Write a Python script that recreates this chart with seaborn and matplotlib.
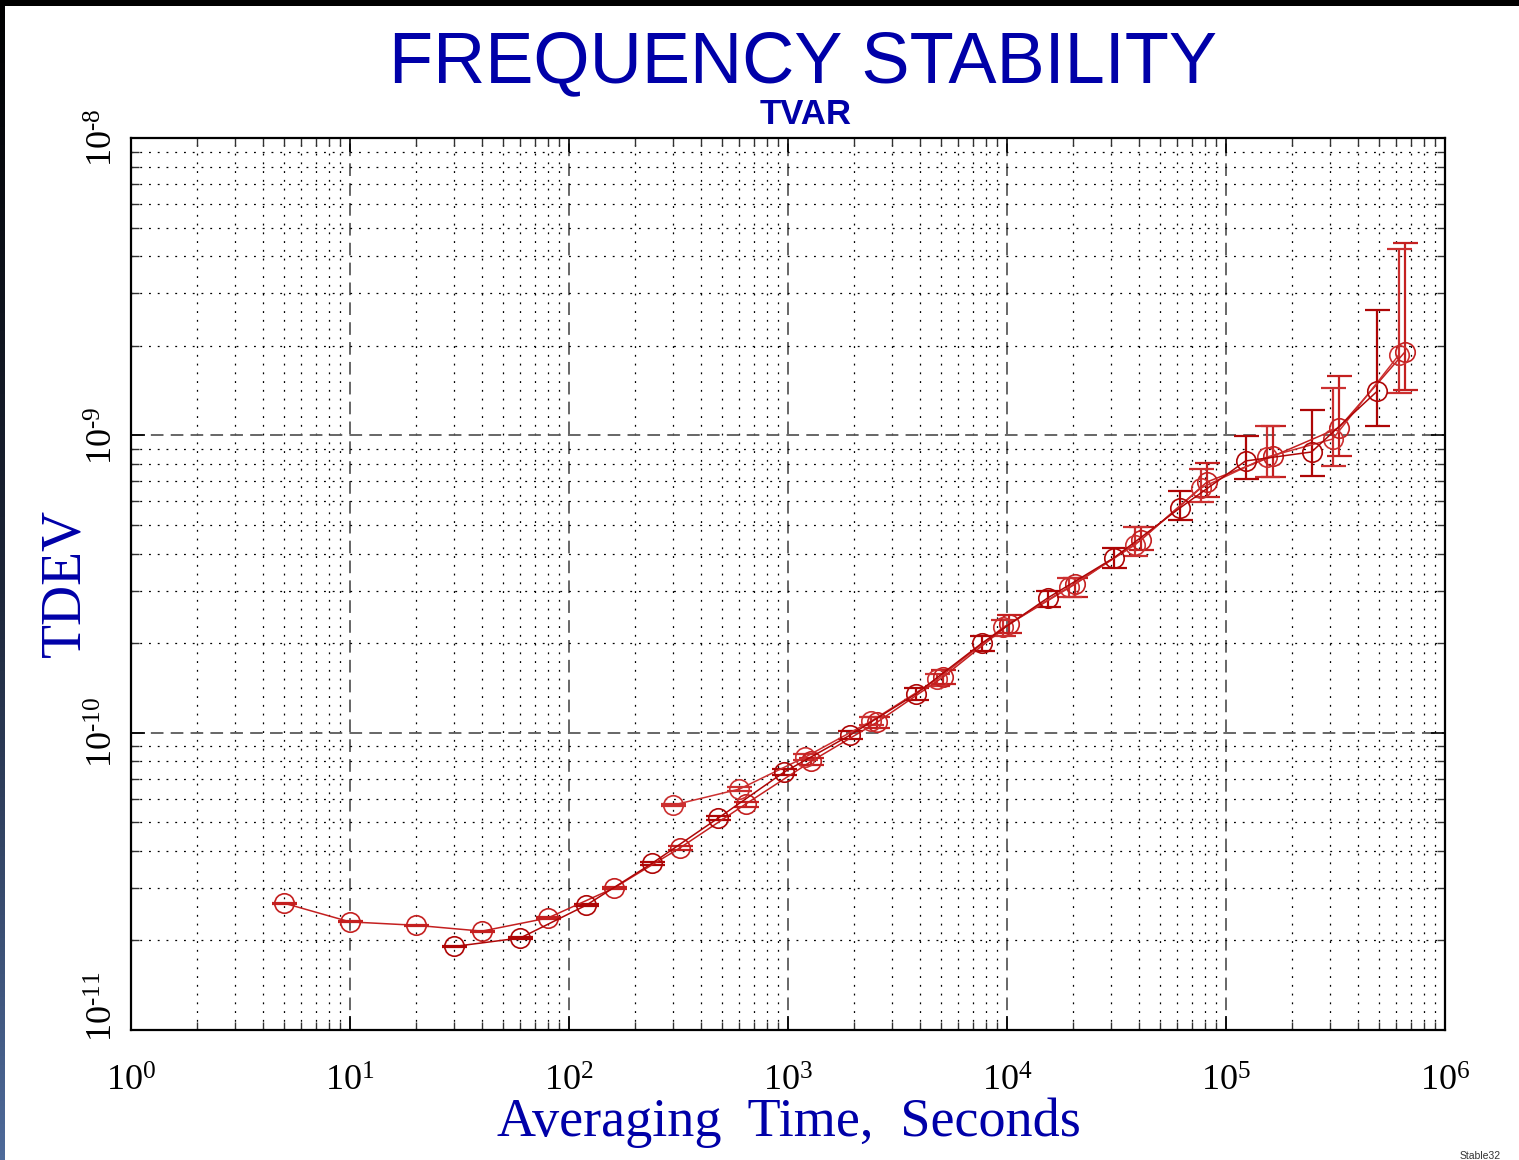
# Gráfica de estabilidad de frecuencia (TDEV) con varias corridas superpuestas
import numpy as np
import pandas as pd
import matplotlib
matplotlib.use('Agg')
import matplotlib.pyplot as plt
from matplotlib.colors import LinearSegmentedColormap
from matplotlib.ticker import LogLocator, FuncFormatter, NullFormatter
import seaborn as sns

# Datos: tiempo de promediado (s), TDEV y barras de error
tau_a = [5, 10, 20, 40, 80, 160, 320, 640, 1280, 2560, 5120, 10240, 20480,
         40960, 81920, 163840, 327680, 655360]
tdev_a = [2.67e-11, 2.31e-11, 2.25e-11, 2.15e-11, 2.38e-11, 3.0e-11, 4.09e-11,
          5.75e-11, 8.02e-11, 1.086e-10, 1.54e-10, 2.32e-10, 3.16e-10, 4.45e-10,
          6.97e-10, 8.51e-10, 1.06e-9, 1.905e-9]
lo_a = [2.66e-11, 2.30e-11, 2.24e-11, 2.14e-11, 2.36e-11, 2.97e-11, 4.03e-11,
        5.64e-11, 7.80e-11, 1.04e-10, 1.46e-10, 2.17e-10, 2.86e-10, 4.11e-10,
        6.20e-10, 7.24e-10, 8.52e-10, 1.42e-9]
hi_a = [2.68e-11, 2.32e-11, 2.26e-11, 2.16e-11, 2.40e-11, 3.03e-11, 4.15e-11,
        5.86e-11, 8.25e-11, 1.13e-10, 1.63e-10, 2.48e-10, 3.31e-10, 4.92e-10,
        8.07e-10, 1.075e-9, 1.583e-9, 4.43e-9]

tau_b = [30, 60, 120, 240, 480, 960, 1920, 3840, 7680, 15360, 30720, 61440,
         122880, 245760, 491520]
tdev_b = [1.91e-11, 2.04e-11, 2.63e-11, 3.64e-11, 5.16e-11, 7.37e-11, 9.81e-11,
          1.35e-10, 2.0e-10, 2.84e-10, 3.87e-10, 5.69e-10, 8.2e-10, 8.79e-10, 1.41e-9]
lo_b = [1.90e-11, 2.03e-11, 2.61e-11, 3.60e-11, 5.08e-11, 7.22e-11, 9.5e-11,
        1.29e-10, 1.88e-10, 2.65e-10, 3.58e-10, 5.19e-10, 7.13e-10, 7.3e-10, 1.075e-9]
hi_b = [1.92e-11, 2.05e-11, 2.65e-11, 3.68e-11, 5.24e-11, 7.52e-11, 1.01e-10,
        1.41e-10, 2.12e-10, 2.99e-10, 4.18e-10, 6.51e-10, 9.94e-10, 1.216e-9, 2.64e-9]

tau_c = [300, 600, 1200, 2400, 4800, 9600, 19200, 38400, 76800, 153600,
         307200, 614400]
tdev_c = [5.71e-11, 6.46e-11, 8.28e-11, 1.094e-10, 1.51e-10, 2.26e-10, 3.09e-10,
          4.28e-10, 6.65e-10, 8.45e-10, 9.72e-10, 1.86e-9]
lo_c = [5.65e-11, 6.36e-11, 8.1e-11, 1.06e-10, 1.44e-10, 2.12e-10, 2.86e-10,
        3.93e-10, 5.97e-10, 7.24e-10, 7.88e-10, 1.388e-9]
hi_c = [5.77e-11, 6.56e-11, 8.46e-11, 1.13e-10, 1.58e-10, 2.4e-10, 3.31e-10,
        4.92e-10, 7.7e-10, 1.075e-9, 1.443e-9, 4.23e-9]

series = [
    (tau_a, tdev_a, lo_a, hi_a, '#c42020'),
    (tau_c, tdev_c, lo_c, hi_c, '#cc3030'),
    (tau_b, tdev_b, lo_b, hi_b, '#ae0606'),
]

# Estilo
sns.set_theme(style='white')
plt.rcParams['font.family'] = ['Liberation Serif', 'DejaVu Serif']
plt.rcParams['mathtext.fontset'] = 'custom'
plt.rcParams['mathtext.rm'] = 'Liberation Serif'
plt.rcParams['mathtext.it'] = 'Liberation Serif:italic'
plt.rcParams['mathtext.bf'] = 'Liberation Serif:bold'

W, H = 1519, 1160
fig = plt.figure(figsize=(W / 100, H / 100), dpi=100)
fig.patch.set_facecolor('white')
ax = fig.add_axes([131 / W, 1 - 1030 / H, (1445 - 131) / W, (1030 - 138) / H])
ax.set_xscale('log')
ax.set_yscale('log')

for tau, val, lo, hi, color in series:
    df = pd.DataFrame({'tau': tau, 'tdev': val})
    err = [np.array(val) - np.array(lo), np.array(hi) - np.array(val)]
    ax.errorbar(tau, val, yerr=err, fmt='none', ecolor=color, elinewidth=1.6,
                capsize=9, capthick=1.6, zorder=3)
    sns.lineplot(data=df, x='tau', y='tdev', ax=ax, color=color, lw=1.1,
                 marker='o', markersize=14, markerfacecolor='none',
                 markeredgecolor=color, markeredgewidth=1.2,
                 sort=False, estimator=None, zorder=4)

ax.set_xlim(1, 1e6)
ax.set_ylim(1e-11, 1e-8)
ax.set_xlabel('')
ax.set_ylabel('')


def potencia(v, pos=None):
    e = int(round(np.log10(v)))
    if e < 0:
        return r'$\mathdefault{10^{\text{-}%d}}$' % (-e)
    return r'$\mathdefault{10^{%d}}$' % e


def potencia_y(v, pos):
    # la de 10^-11 se escribe aparte, un poco más arriba
    if np.isclose(np.log10(v), -11):
        return ''
    return potencia(v)


ax.xaxis.set_major_formatter(FuncFormatter(potencia))
ax.yaxis.set_major_formatter(FuncFormatter(potencia_y))
for axis in (ax.xaxis, ax.yaxis):
    axis.set_major_locator(LogLocator(base=10, numticks=12))
    axis.set_minor_locator(LogLocator(base=10, subs=np.arange(2, 10), numticks=12))
    axis.set_minor_formatter(NullFormatter())

ax.grid(True, which='major', ls=(0, (7, 4)), color='#5a5a5a', lw=1.3)
ax.grid(True, which='minor', ls=(0, (1.5, 5.5)), color='black', lw=0.9)
ax.set_axisbelow(True)

ax.tick_params(which='both', direction='in', top=True, right=True,
               bottom=True, left=True, color='#333333')
ax.tick_params(which='major', length=10, width=1.2)
ax.tick_params(which='minor', length=6, width=1.0)
ax.tick_params(axis='x', labelsize=26, pad=26, colors='black')
ax.tick_params(axis='y', labelsize=26, pad=7, labelrotation=90, colors='black')
for lbl in ax.get_yticklabels():
    lbl.set_verticalalignment('center')

ax.annotate(potencia(1e-11), xy=(0, 1e-11), xycoords=('axes fraction', 'data'),
            xytext=(-7, 16.5), textcoords='offset points', rotation=90,
            ha='right', va='center', fontsize=26, color='black')

for sp in ax.spines.values():
    sp.set_color('black')
    sp.set_linewidth(1.6)

# Textos
azul = '#0000a8'
fig.text(803 / W, 1 - 64 / H, 'FREQUENCY STABILITY', ha='center', va='center',
         fontsize=52, color=azul, family='Liberation Sans')
fig.text(806 / W, 1 - 114 / H, 'TVAR', ha='center', va='center',
         fontsize=25, color=azul, family='Liberation Sans', fontweight='bold')
fig.text(65 / W, 1 - 583 / H, 'TDEV', rotation=90, ha='center', va='center',
         fontsize=40, color=azul)
fig.text(789 / W, 1 - 1123 / H, 'Averaging  Time,  Seconds', ha='center',
         va='center', fontsize=39, color=azul)
fig.text(1460 / W, 1 - 1151 / H, 'Stable32', ha='left', va='top', fontsize=7.5,
         color='#333333', family='Liberation Sans')

# Bordes oscuros de la captura
top = fig.add_axes([0, 1 - 6 / H, 1, 6 / H])
top.set_facecolor('black')
top.set_xticks([])
top.set_yticks([])
for sp in top.spines.values():
    sp.set_visible(False)
left = fig.add_axes([0, 0, 5 / W, 1])
cmap = LinearSegmentedColormap.from_list('borde', ['#000000', '#1c2538', '#4e6a9a'])
left.imshow(np.linspace(0, 1, 256).reshape(-1, 1), aspect='auto', cmap=cmap,
            origin='upper')
left.set_axis_off()

fig.savefig('out.png', dpi=100)
plt.close(fig)
